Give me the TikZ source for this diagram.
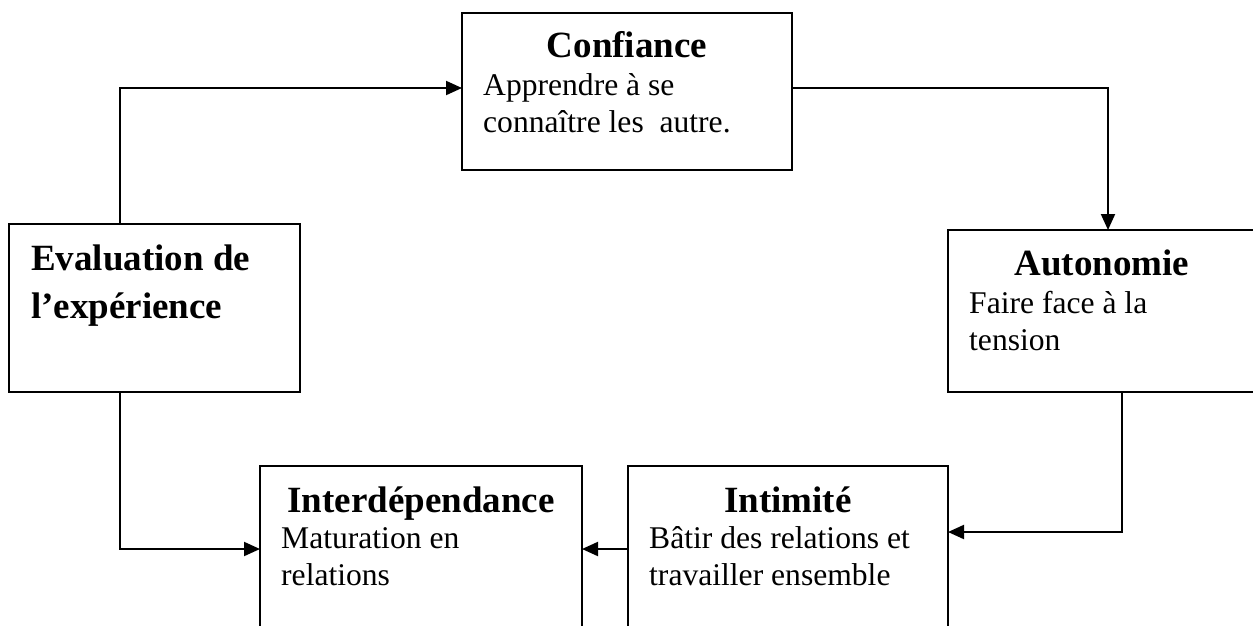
\documentclass[tikz,border=0pt]{standalone}
\usepackage{fontspec}
\setmainfont{Liberation Serif}
\usetikzlibrary{arrows.meta}

\begin{document}
\begin{tikzpicture}[x=1pt,y=-1pt,
  stage/.style={draw, line width=2pt, inner sep=0pt, outer sep=0pt, anchor=north west},
  heading/.style={inner sep=0pt, anchor=base, font=\fontsize{37}{40}\selectfont\bfseries},
  bighead/.style={inner sep=0pt, anchor=base west, font=\fontsize{37}{40}\selectfont\bfseries},
  body/.style={inner sep=0pt, anchor=base west, font=\fontsize{31.6}{36}\selectfont},
  link/.style={line width=2pt, -{Triangle[length=16pt,width=14pt]}}]

% canvas
\clip (0,0) rectangle (1253,625);
\fill[white] (0,0) rectangle (1253,625);

% stage boxes
\node[stage, minimum width=330pt, minimum height=157pt] (conf)  at (462,13)  {};
\node[stage, minimum width=291pt, minimum height=168pt] (eval)  at (9,224)   {};
\node[stage, minimum width=310pt, minimum height=162pt] (auto)  at (948,230) {};
\node[stage, minimum width=322pt, minimum height=166pt] (inter) at (260,466) {};
\node[stage, minimum width=320pt, minimum height=166pt] (intim) at (628,466) {};

% Confiance
\node[heading] (confT) at (627,57) {Confiance};
\node[body] (confA) at (483,95)  {Apprendre à se};
\node[body] (confB) at (483,132) {connaître les\ \ autre.};

% Evaluation
\node[bighead] (evalA) at (31,270) {Evaluation de};
\node[bighead] (evalB) at (31,318) {l’expérience};

% Autonomie
\node[heading] (autoT) at (1102,275) {Autonomie};
\node[body] (autoA) at (969,313) {Faire face à la};
\node[body] (autoB) at (969,350) {tension};

% Interdependance
\node[heading] (interT) at (421,512) {Interdépendance};
\node[body] (interA) at (281,548) {Maturation en};
\node[body] (interB) at (281,585) {relations};

% Intimite
\node[heading] (intimT) at (788,512) {Intimité};
\node[body] (intimA) at (649,548) {Bâtir des relations et};
\node[body] (intimB) at (649,585) {travailler ensemble};

% connectors
\draw[link] ([xshift=111pt]eval.north west) |- ([yshift=3.5pt]conf.west);
\draw[link] ([yshift=3.5pt]conf.east) -| ([xshift=5pt]auto.north);
\draw[link] ([xshift=19pt]auto.south) |- ([yshift=17pt]intim.east);
\draw[link] (intim.west) -- (inter.east);
\draw[link] ([xshift=-34.5pt]eval.south) |- (inter.west);
\end{tikzpicture}
\end{document}
